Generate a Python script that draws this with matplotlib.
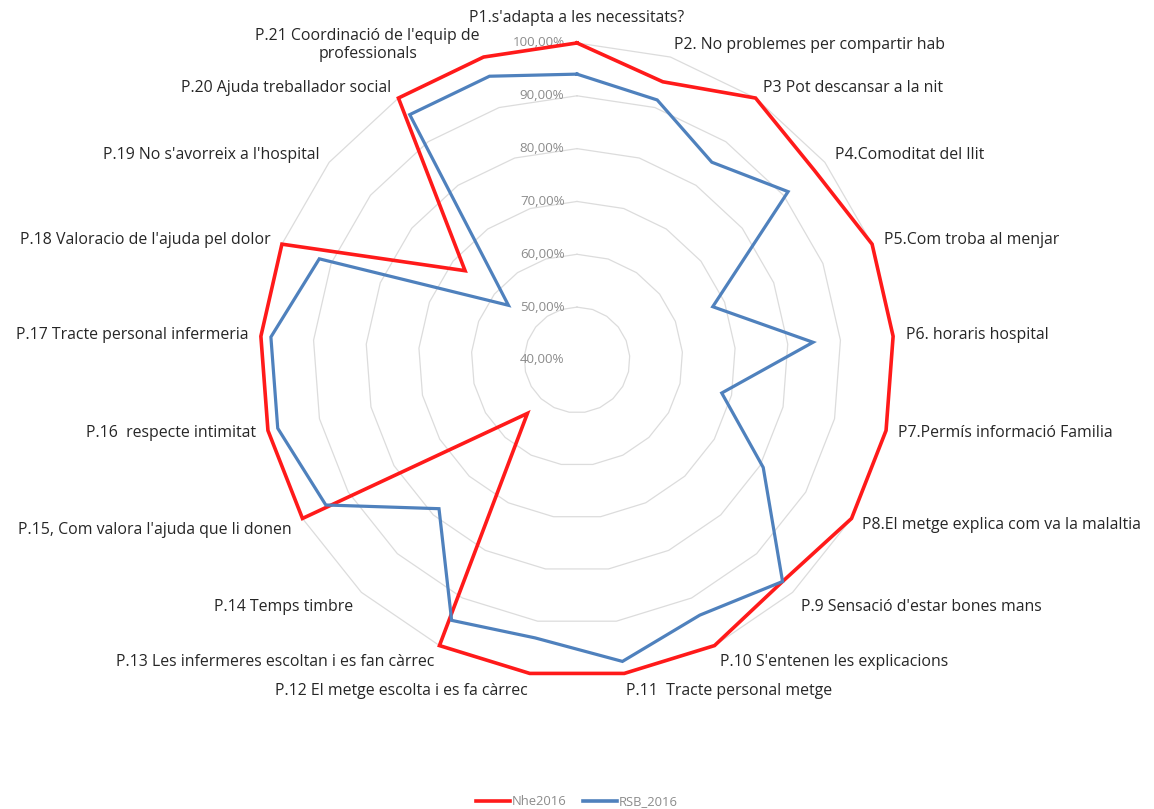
import numpy as np
import matplotlib
matplotlib.use("Agg")
import matplotlib.pyplot as plt
from matplotlib.lines import Line2D

categories = [
    "P1.s'adapta a les necessitats?",
    "P2. No problemes per compartir hab",
    "P3 Pot descansar a la nit",
    "P4.Comoditat del llit",
    "P5.Com troba al menjar",
    "P6. horaris hospital",
    "P7.Permís informació Familia",
    "P8.El metge explica com va la malaltia",
    "P.9 Sensació d'estar bones mans",
    "P.10 S'entenen les explicacions",
    "P.11  Tracte personal metge",
    "P.12 El metge escolta i es fa càrrec",
    "P.13 Les infermeres escoltan i es fan càrrec",
    "P.14 Temps timbre",
    "P.15, Com valora l'ajuda que li donen",
    "P.16  respecte intimitat",
    "P.17 Tracte personal infermeria",
    "P.18 Valoracio de l'ajuda pel dolor",
    "P.19 No s'avorreix a l'hospital",
    "P.20 Ajuda treballador social",
    "P.21 Coordinació de l'equip de\nprofessionals",
]

nhe2016 = [1.0, 0.951, 1.0, 0.975, 1.0, 1.0, 1.0, 1.0, 0.972, 1.0, 1.0,
           1.0, 1.0, 0.538, 1.0, 1.0, 1.0, 1.0, 0.671, 1.0, 1.0]
rsb2016 = [0.941, 0.915, 0.853, 0.911, 0.676, 0.848, 0.681, 0.807, 0.972, 0.936, 0.977,
           0.932, 0.947, 0.784, 0.949, 0.981, 0.981, 0.924, 0.566, 0.962, 0.962]

series_names = ["Nhe2016", "RSB_2016"]
ring_levels = [0.4, 0.5, 0.6, 0.7, 0.8, 0.9, 1.0]

plt.rcParams["font.family"] = ["Open Sans", "DejaVu Sans"]

fig = plt.figure(figsize=(11.54, 8.09), dpi=100)
ax = fig.add_axes([0.2253, 0.1632, 0.5494, 0.7837], projection="polar")
ax.set_theta_zero_location("N")
ax.set_theta_direction(-1)
ax.set_ylim(0.4, 1.0)
ax.grid(False)
ax.spines["polar"].set_visible(False)
ax.set_xticks([])
ax.set_yticks([])
ax.patch.set_alpha(0)

n = len(categories)
theta = np.arange(n) * 2 * np.pi / n
theta_closed = np.append(theta, theta[0])

# polygon gridlines like excel
for lev in ring_levels:
    if lev > ring_levels[0]:
        ax.plot(theta_closed, [lev] * (n + 1), color="#dcdcdc", lw=0.9, zorder=1, clip_on=False)
    ax.annotate(f"{lev * 100:.2f}%".replace(".", ","), xy=(0, lev), xytext=(-9, 0),
                textcoords="offset points", ha="right", va="center",
                color="#8c8c8c", fontsize=9.6, zorder=2)

colors = ["#ff1a1a", "#4f81bd"]
for vals, col, lw in zip([nhe2016, rsb2016], colors, [2.6, 2.3]):
    ax.plot(theta_closed, np.append(vals, vals[0]), color=col, lw=lw,
            zorder=3, clip_on=False, solid_joinstyle="miter")

# category labels around the outside
for t, lab in zip(theta, categories):
    s, c = np.sin(t), np.cos(t)
    if abs(s) < 0.05:
        ha = "center"
        va = "bottom" if c > 0 else "top"
    else:
        ha = "left" if s > 0 else "right"
        va = "center"
    pad = 9
    dx, dy = pad * s, pad * c
    if ha == "center" and c > 0:
        dy += 3
    if c < -0.5:
        dy -= 4
    ax.annotate(lab, xy=(t, 1.0), xytext=(dx, dy), textcoords="offset points",
                ha=ha, va=va, color="#262626", fontsize=11.4,
                multialignment="center", annotation_clip=False)

handles = [Line2D([], [], color=col, lw=2.6) for col in colors]
fig.legend(handles, series_names, loc="center", bbox_to_anchor=(0.5, 0.009),
           ncol=2, frameon=False, fontsize=9.4, handlelength=2.6, handletextpad=0.1,
           columnspacing=1.3, labelcolor="#8c8c8c")

fig.savefig("out.png", dpi=100, facecolor="white")
